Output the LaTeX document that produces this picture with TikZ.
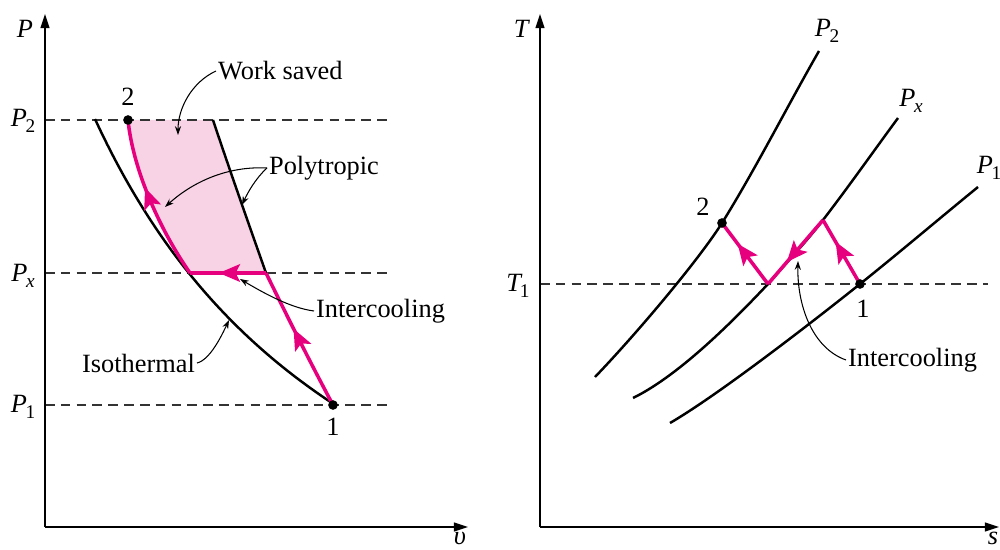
\documentclass[tikz,border=0pt]{standalone}
\usepackage{fontspec}
\setmainfont{Liberation Serif}
\usetikzlibrary{arrows.meta,decorations.markings}
\definecolor{mag}{RGB}{230,0,126}
\definecolor{pinkfill}{RGB}{248,210,229}
\newcommand{\Psub}[1]{\textit{P}\kern-0.05em\raisebox{-0.55ex}{\fontsize{11}{11}\selectfont #1}}
\begin{document}
\begin{tikzpicture}[x=0.02cm,y=-0.02cm,
 axis/.style={line width=0.9pt,-{Triangle[length=8pt,width=5pt]}},
 guide/.style={line width=0.7pt,draw=black!80,dash pattern=on 5.5pt off 3.5pt},
 curve/.style={line width=1.4pt},
 proc/.style={line width=2pt,draw=mag},
 midarrow/.style={postaction={decorate},decoration={markings,mark=at position #1 with {\arrow[mag]{Stealth[length=12pt,width=10pt,inset=2.5pt]}}}},
 lbl/.style={font=\fontsize{15}{15}\selectfont,inner sep=1pt},
 note/.style={line width=0.6pt,-{Stealth[length=5pt,width=3.5pt]}},
 dot/.style={circle,fill=black,inner sep=0pt,minimum size=5.5pt}
]
\useasboundingbox (0,0) rectangle (1000,550);

% ---------------- left: P-v ----------------
\coordinate (O1) at (45,527);
\coordinate (Pend) at (45,14);
\coordinate (vend) at (468,527);
\coordinate (p1) at (333,405);
\coordinate (xa) at (190,273);
\coordinate (xb) at (266,273);
\coordinate (p2) at (128,120);
\coordinate (p2b) at (213,120);

\fill[pinkfill] (xa) .. controls (160,230) and (133,170) .. (p2) -- (p2b)
  .. controls (230,171) and (248,222) .. (xb) -- cycle;

\draw[guide] (45,120) coordinate (g2a) -- (392,120) coordinate (g2b);
\draw[guide] (45,273) coordinate (gxa) -- (392,273) coordinate (gxb);
\draw[guide] (45,405) coordinate (g1a) -- (392,405) coordinate (g1b);

\draw[axis] (O1) -- (Pend);
\draw[axis] (O1) -- (vend);

% isothermal (P proportional to 1/v)
\draw[curve] plot[domain=95:333,samples=80] (\x,{754.6-186.47/((\x+198.4)/1000)});
\draw[curve] (xb) .. controls (248,222) and (230,171) .. (p2b);

\draw[proc,midarrow=0.58] (p1) .. controls (310,362) and (288,318) .. (xb);
\draw[proc,midarrow=0.62] (xb) -- (xa);
\draw[proc,midarrow=0.58] (xa) .. controls (160,230) and (133,170) .. (p2);

\node[dot] (d1) at (p1) {};
\node[dot] (d2) at (p2) {};
\node[lbl] (l1) at (333,427) {1};
\node[lbl] (l2) at (128,97) {2};

\node[lbl] (Plab) at (25,29) {\textit{P}};
\node[lbl] (vlab) at (460,538) {\textit{υ}};
\node[lbl] (P2l) at (23,121) {\Psub{2}};
\node[lbl] (Pxl) at (23,276) {\Psub{\textit{x}}};
\node[lbl] (P1l) at (23,407) {\Psub{1}};

\node[lbl,anchor=west] (ws) at (216,71) {Work saved};
\node[lbl,anchor=west] (poly) at (267,168) {Polytropic};
\node[lbl,anchor=west] (ic1) at (314,311) {Intercooling};
\node[lbl,anchor=east] (isoth) at (197,363) {Isothermal};

\coordinate (wsT) at (178,135);
\coordinate (polyT1) at (165,207);
\coordinate (polyT2) at (242,205);
\coordinate (ic1T) at (240,279);
\coordinate (isoT) at (229,320);
\draw[note] (ws.west) .. controls (192,82) and (178,108) .. (wsT);
\draw[note] (poly.west) .. controls (230,166) and (195,180) .. (polyT1);
\draw[note] (poly.west) .. controls (256,178) and (248,192) .. (polyT2);
\draw[note] (ic1.west) .. controls (290,308) and (262,292) .. (ic1T);
\draw[note] (isoth.east) .. controls (210,360) and (222,335) .. (isoT);

% ---------------- right: T-s ----------------
\coordinate (O2) at (540,527);
\coordinate (Tend) at (540,14);
\coordinate (send) at (999,527);
\coordinate (q1) at (860,284);
\coordinate (qa) at (823,220);
\coordinate (qb) at (768,284);
\coordinate (q2) at (722,223);

\draw[guide] (540,284) coordinate (t1a) -- (988,284) coordinate (t1b);
\draw[axis] (O2) -- (Tend);
\draw[axis] (O2) -- (send);

% isobar P2
\draw[curve] (595,377) .. controls (640,330) and (700,258) .. (q2)
  .. controls (755,170) and (788,105) .. (819,51);
% isobar Px
\draw[curve] (633,398) .. controls (680,375) and (735,319) .. (qb)
  .. controls (786,263) and (805,243.4) .. (qa)
  .. controls (848,187.5) and (873,152) .. (898,118);
% isobar P1
\draw[curve] (670,423) .. controls (720,394) and (820,316) .. (q1)
  .. controls (900,252) and (940,218) .. (978,187);

\draw[proc,midarrow=0.66] (q1) -- (qa);
\draw[proc,midarrow=0.66] (qa) -- (qb);
\draw[proc,midarrow=0.66] (qb) -- (q2);

\node[dot] (e1) at (q1) {};
\node[dot] (e2) at (q2) {};
\node[lbl] (m1) at (863,309) {1};
\node[lbl] (m2) at (703,207) {2};

\node[lbl] (Tlab) at (522,29) {\textit{T}};
\node[lbl] (slab) at (993,538) {\textit{s}};
\node[lbl] (T1l) at (518,286) {\textit{T}\kern-0.1em\raisebox{-0.55ex}{\fontsize{11}{11}\selectfont 1}};
\node[lbl] (rP2) at (827,31) {\Psub{2}};
\node[lbl] (rPx) at (911,101) {\Psub{\textit{x}}};
\node[lbl] (rP1) at (989,168) {\Psub{1}};

\node[lbl,anchor=west] (ic2) at (846,360) {Intercooling};
\coordinate (ic2T) at (798,261);
\draw[note] (ic2.west) .. controls (812,348) and (797,305) .. (ic2T);
\end{tikzpicture}
\end{document}
